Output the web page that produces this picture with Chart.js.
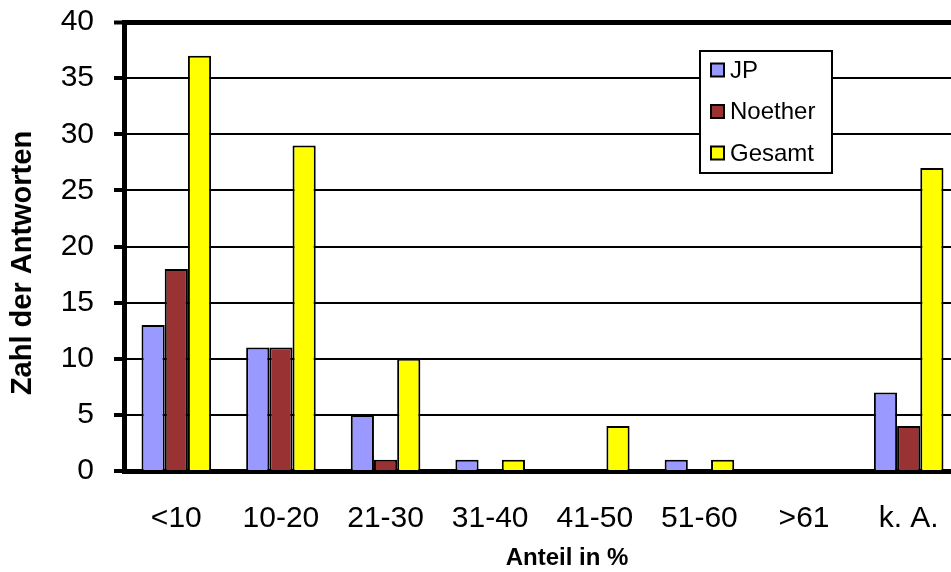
<!DOCTYPE html>
<html>
<head>
<meta charset="utf-8">
<script src="https://cdn.jsdelivr.net/npm/chart.js@4/dist/chart.umd.min.js"></script>
<style>
  html, body { margin: 0; padding: 0; background: #fff; overflow: hidden; }
  #wrap { width: 951px; height: 572px; overflow: hidden; position: relative; }
  canvas { display: block; }
</style>
</head>
<body>
<div id="wrap"><canvas id="c" width="980" height="572"></canvas></div>
<script>
// Survey answers per share bracket
const categories = ['<10', '10-20', '21-30', '31-40', '41-50', '51-60', '>61', 'k. A.'];
const seriesNames = ['JP', 'Noether', 'Gesamt'];
const jpValues = [13, 11, 5, 1, 0, 1, 0, 7];
const noetherValues = [18, 11, 1, 0, 0, 0, 0, 4];
const gesamtValues = [37, 29, 10, 1, 4, 1, 0, 27];
const yMin = 0;
const yMax = 40;
const yStep = 5;
const xTitle = 'Anteil in %';
const yTitle = 'Zahl der Antworten';

const FONT = "'Liberation Sans', Arial, sans-serif";
const seriesColors = ['#9999FF', '#993333', '#FFFF00'];

// Framed legend box inside the plot area
const boxLegend = {
  id: 'boxLegend',
  afterDraw(chart) {
    const ctx = chart.ctx;
    ctx.save();
    ctx.fillStyle = '#fff';
    ctx.fillRect(700, 51, 132, 122);
    ctx.strokeStyle = '#000';
    ctx.lineWidth = 2;
    ctx.strokeRect(700, 51, 132, 122);
    ctx.font = '24px ' + FONT;
    ctx.textBaseline = 'middle';
    ctx.textAlign = 'left';
    chart.data.datasets.forEach((ds, i) => {
      const cy = 70 + i * 41.5;
      ctx.fillStyle = ds.backgroundColor;
      ctx.fillRect(711, cy - 6.5, 13, 13);
      ctx.lineWidth = 2;
      ctx.strokeStyle = '#000';
      ctx.strokeRect(711, cy - 6.5, 13, 13);
      ctx.fillStyle = '#000';
      ctx.fillText(ds.label, 730, cy + 1);
    });
    ctx.restore();
  }
};

// Bold axis captions
const axisCaptions = {
  id: 'axisCaptions',
  afterDraw(chart) {
    const ctx = chart.ctx;
    ctx.save();
    ctx.fillStyle = '#000';
    ctx.textAlign = 'center';
    ctx.textBaseline = 'alphabetic';
    ctx.font = 'bold 24px ' + FONT;
    ctx.fillText(xTitle, 567, 565);
    ctx.translate(31, 263);
    ctx.rotate(-Math.PI / 2);
    ctx.font = 'bold 29px ' + FONT;
    ctx.fillText(yTitle, 0, 0);
    ctx.restore();
  }
};

const valueSets = [jpValues, noetherValues, gesamtValues];

new Chart(document.getElementById('c'), {
  type: 'bar',
  data: {
    labels: categories,
    datasets: seriesNames.map((name, i) => ({
      label: name,
      data: valueSets[i],
      backgroundColor: seriesColors[i],
      borderColor: '#000',
      borderWidth: 2,
      categoryPercentage: 0.665,
      barPercentage: 1.0
    }))
  },
  options: {
    responsive: false,
    devicePixelRatio: 1,
    animation: false,
    layout: { padding: { left: 0, top: 22, right: 19, bottom: 0 } },
    plugins: {
      legend: { display: false },
      tooltip: { enabled: false }
    },
    scales: {
      x: {
        z: 1,
        grid: { display: true, drawOnChartArea: false, drawTicks: false },
        border: { display: true, color: '#000', width: 5 },
        ticks: {
          color: '#000',
          font: { family: FONT, size: 30 },
          padding: 30,
          maxRotation: 0,
          autoSkip: false
        },
        afterFit(scale) {
          scale.height = 101;
          scale.paddingLeft = 0;
          scale.paddingRight = 0;
        }
      },
      y: {
        min: yMin,
        max: yMax,
        ticks: {
          stepSize: yStep,
          color: '#000',
          font: { family: FONT, size: 30 },
          padding: 20
        },
        grid: {
          color: '#000',
          lineWidth: (c) => (c.tick && c.tick.value === yMax ? 5 : 2),
          tickLength: 10,
          tickWidth: 4,
          tickColor: '#000'
        },
        border: { display: true, color: '#000', width: 5 },
        afterFit(scale) {
          scale.width = 124;
          scale.paddingTop = 0;
          scale.paddingBottom = 0;
        }
      }
    }
  },
  plugins: [boxLegend, axisCaptions]
});
</script>
</body>
</html>
